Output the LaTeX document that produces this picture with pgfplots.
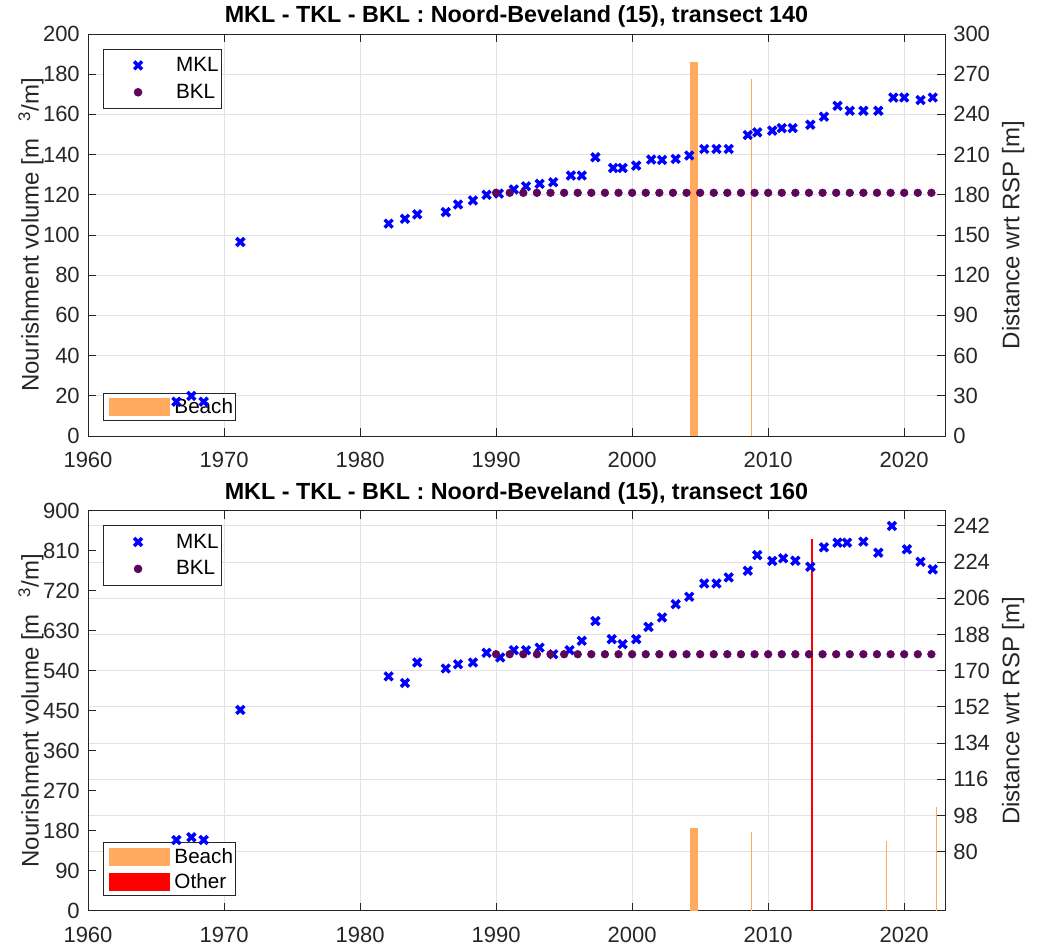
\documentclass[border=0pt]{standalone}
\usepackage{fontspec}
\setmainfont{Liberation Sans}
\usepackage{pgfplots}
\usepackage{pgfplotstable}
\pgfplotsset{compat=1.18}
\definecolor{axgray}{RGB}{38,38,38}
\definecolor{gridgray}{RGB}{226,226,226}
\definecolor{beach}{RGB}{255,170,94}
\definecolor{bkl}{RGB}{92,6,92}
\definecolor{mkl}{RGB}{0,0,255}
\newcommand{\tickfont}{\fontsize{16.5}{19}\selectfont}
\newcommand{\labfont}{\fontsize{18}{21}\selectfont}
\newcommand{\titfont}{\fontsize{17.5}{20}\selectfont\bfseries}
\newcommand{\legfont}{\fontsize{15.5}{18}\selectfont}

\pgfplotstableread{
year val
1966.5 25.6
1967.6 29.9
1968.5 25.6
1971.2 144.8
1982.1 158.5
1983.3 162.1
1984.2 165.4
1986.3 167.1
1987.2 172.8
1988.3 175.8
1989.3 180.0
1990.2 180.9
1991.3 184.0
1992.2 186.4
1993.2 188.2
1994.2 189.4
1995.5 194.4
1996.3 194.4
1997.3 208.0
1998.6 200.0
1999.3 200.0
2000.3 201.8
2001.4 206.3
2002.2 206.0
2003.2 206.8
2004.2 209.3
2005.3 214.2
2006.2 214.2
2007.1 214.2
2008.5 224.6
2009.2 226.6
2010.3 227.9
2011.0 229.8
2011.8 229.8
2013.1 232.3
2014.1 238.3
2015.1 246.4
2016.0 242.7
2017.0 242.7
2018.1 242.7
2019.2 252.6
2020.0 252.6
2021.2 250.7
2022.1 252.6
}\mkltop

\pgfplotstableread{
year val
1966.5 85.8
1967.6 87.2
1968.5 85.8
1971.2 150.5
1982.1 167.2
1983.3 163.9
1984.2 174.1
1986.3 171.1
1987.2 173.2
1988.3 174.1
1989.3 178.9
1990.3 176.6
1991.3 180.2
1992.2 180.2
1993.2 181.5
1994.2 178.2
1995.4 180.2
1996.3 184.9
1997.3 194.7
1998.5 185.7
1999.3 183.2
2000.3 185.7
2001.2 191.8
2002.2 196.5
2003.2 203.1
2004.2 206.8
2005.3 213.4
2006.2 213.4
2007.1 216.4
2008.5 219.7
2009.2 227.5
2010.3 224.6
2011.1 225.9
2012.0 224.7
2013.1 221.7
2014.1 231.4
2015.1 233.7
2015.8 233.7
2017.0 234.2
2018.1 228.7
2019.1 242.0
2020.2 230.4
2021.2 224.2
2022.1 220.4
}\mklbot

\pgfplotstableread{
year top bot
1990 181.5 178.2
1991 181.5 178.2
1992 181.5 178.2
1993 181.5 178.2
1994 181.5 178.2
1995 181.5 178.2
1996 181.5 178.2
1997 181.5 178.2
1998 181.5 178.2
1999 181.5 178.2
2000 181.5 178.2
2001 181.5 178.2
2002 181.5 178.2
2003 181.5 178.2
2004 181.5 178.2
2005 181.5 178.2
2006 181.5 178.2
2007 181.5 178.2
2008 181.5 178.2
2009 181.5 178.2
2010 181.5 178.2
2011 181.5 178.2
2012 181.5 178.2
2013 181.5 178.2
2014 181.5 178.2
2015 181.5 178.2
2016 181.5 178.2
2017 181.5 178.2
2018 181.5 178.2
2019 181.5 178.2
2020 181.5 178.2
2021 181.5 178.2
2022 181.5 178.2
}\bkl

\pgfplotsset{
  base/.style={
    scale only axis, width=642.75pt,
    xmin=1960, xmax=2023,
    xtick={1960,1970,...,2020},
    /pgf/number format/assume math mode=true,
    /pgf/number format/1000 sep={},
    tick label style={font=\tickfont, text=axgray, inner sep=1pt},
    axis line style={draw=axgray, line width=0.75pt},
    every tick/.style={draw=axgray, line width=0.75pt},
    major tick length=6pt,
    tick align=inside,
    grid style={draw=gridgray, line width=0.75pt},
    yticklabel shift=5pt,
  },
  gridax/.style={base, xtick pos=both, ytick pos=right, yticklabel pos=right,
    xmajorgrids, ymajorgrids, xticklabel shift=11pt,
    ylabel style={font=\labfont, text=axgray, at={(axis description cs:1.0794,0.5)}, anchor=center},
  },
  leftax/.style={base, axis y line*=left, axis x line=none, ytick pos=left,
    ylabel style={font=\labfont, text=axgray, at={(axis description cs:-0.0665,0.5)}, anchor=center},
    title style={font=\titfont, text=black, at={(0.5,1)}, anchor=south, yshift=-4.5pt},
    legend style={at={(0.0175,0.037)}, anchor=south west, draw=axgray, line width=0.6pt,
      font=\legfont, inner xsep=0pt, inner ysep=2pt, row sep=2pt,
      /tikz/every odd column/.append style={column sep=1.5pt}},
    legend cell align=left,
  },
  markax/.style={base, hide axis,
    legend style={at={(0.0175,0.963)}, anchor=north west, draw=axgray, line width=0.6pt,
      font=\legfont, inner xsep=0pt, inner ysep=4pt, row sep=4pt,
      /tikz/every odd column/.append style={column sep=1.5pt}},
    legend cell align=left,
  },
  mklstyle/.style={only marks, color=mkl, mark=x, mark size=4.2pt, line width=2.6pt,
    legend image code/.code={\path[draw=none,fill=none] (0pt,-0.1pt) rectangle (51pt,0.1pt);
      \draw[##1] plot coordinates {(26pt,0pt)};}},
  bklstyle/.style={only marks, color=bkl, mark=*, mark size=2.9pt,
    legend image code/.code={\path[draw=none,fill=none] (0pt,-0.1pt) rectangle (51pt,0.1pt);
      \draw[##1] plot coordinates {(26pt,0pt)};}},
}

\begin{document}
\begin{tikzpicture}
\useasboundingbox (0,0) rectangle (778.5pt,-709.5pt);
% ---------------- top panel ----------------
\begin{axis}[gridax, at={(66pt,-327pt)}, anchor=south west, height=301.5pt,
  ymin=0, ymax=300, ytick={0,30,...,300}, ylabel={Distance wrt RSP [m]}]
\end{axis}
\begin{axis}[leftax, at={(66pt,-327pt)}, anchor=south west, height=301.5pt,
  ymin=0, ymax=200, ytick={0,20,...,200},
  ylabel={Nourishment volume [m\hspace{0.7em}\textsuperscript{3}/m]},
  title={MKL - TKL - BKL : Noord-Beveland (15), transect 140}]
\addplot[ycomb, draw=beach, line width=6.6pt, forget plot] coordinates {(2004.55,186.2)};
\addplot[ycomb, draw=beach, line width=0.9pt, forget plot] coordinates {(2008.77,177.5)};
\addlegendimage{legend image code/.code={\path[draw=none] (0pt,0pt) rectangle (4.5pt,0.1pt); \fill[beach] (4.5pt,-6.4pt) rectangle (49.5pt,6.4pt);}}
\addlegendentry{Beach}
\end{axis}
\begin{axis}[markax, at={(66pt,-327pt)}, anchor=south west, height=301.5pt,
  ymin=0, ymax=300]
\addplot[mklstyle] table[x=year, y=val] {\mkltop};
\addlegendentry{MKL}
\addplot[bklstyle] table[x=year, y=top] {\bkl};
\addlegendentry{BKL}
\end{axis}
% ---------------- bottom panel ----------------
\begin{axis}[gridax, at={(66pt,-683pt)}, anchor=south west, height=300pt,
  ymin=50.65, ymax=249.6, ytick={80,98,...,242}, ylabel={Distance wrt RSP [m]}]
\end{axis}
\begin{axis}[leftax, at={(66pt,-683pt)}, anchor=south west, height=300pt,
  ymin=0, ymax=900, ytick={0,90,...,900},
  ylabel={Nourishment volume [m\hspace{0.7em}\textsuperscript{3}/m]},
  title={MKL - TKL - BKL : Noord-Beveland (15), transect 160}]
\addplot[ycomb, draw=beach, line width=6.6pt, forget plot] coordinates {(2004.55,186.7)};
\addplot[ycomb, draw=beach, line width=0.9pt, forget plot] coordinates {(2008.77,177)};
\addplot[ycomb, draw=red, line width=1.4pt, forget plot] coordinates {(2013.25,835.6)};
\addplot[ycomb, draw=beach, line width=1.1pt, forget plot] coordinates {(2018.69,157.5)};
\addplot[ycomb, draw=beach, line width=1.1pt, forget plot] coordinates {(2022.36,232.7)};
\addlegendimage{legend image code/.code={\path[draw=none] (0pt,0pt) rectangle (4.5pt,0.1pt); \fill[beach] (4.5pt,-6.4pt) rectangle (49.5pt,6.4pt);}}
\addlegendentry{Beach}
\addlegendimage{legend image code/.code={\path[draw=none] (0pt,0pt) rectangle (4.5pt,0.1pt); \fill[red] (4.5pt,-6.4pt) rectangle (49.5pt,6.4pt);}}
\addlegendentry{Other}
\end{axis}
\begin{axis}[markax, at={(66pt,-683pt)}, anchor=south west, height=300pt,
  ymin=50.65, ymax=249.6]
\addplot[mklstyle] table[x=year, y=val] {\mklbot};
\addlegendentry{MKL}
\addplot[bklstyle] table[x=year, y=bot] {\bkl};
\addlegendentry{BKL}
\end{axis}
\end{tikzpicture}
\end{document}
